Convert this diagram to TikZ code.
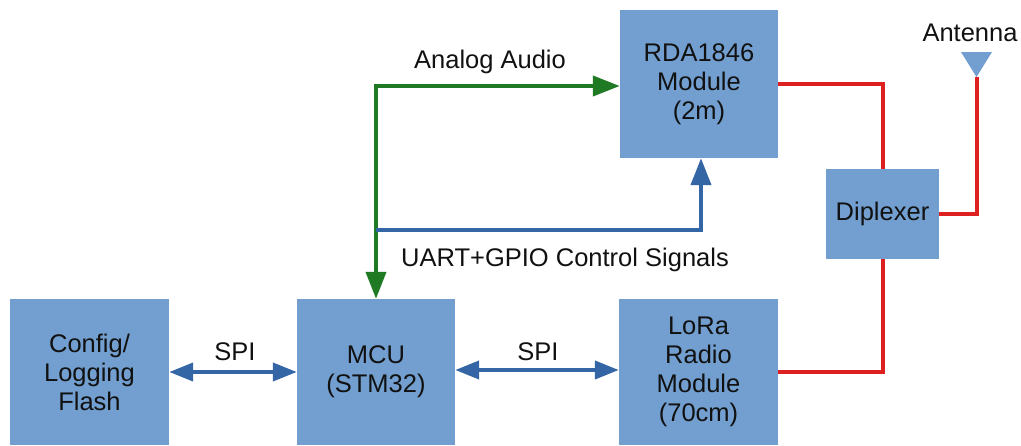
\documentclass[tikz,border=0pt]{standalone}
\usepackage{fontspec}
\setmainfont{Liberation Sans}
\usetikzlibrary{arrows.meta}
\definecolor{boxblue}{HTML}{729FCF}
\definecolor{lineblue}{HTML}{3465A4}
\definecolor{linegreen}{HTML}{1F7A23}
\definecolor{linered}{HTML}{DD2020}
\definecolor{txt}{HTML}{111111}
\begin{document}
\begin{tikzpicture}[x=1pt,y=-1pt,
  block/.style={fill=boxblue,draw=none,inner sep=0pt,align=center,text=txt,
    font=\fontsize{25.5}{29}\selectfont},
  lbl/.style={inner sep=0pt,text=txt,font=\fontsize{25.5}{29}\selectfont},
  wire/.style={line width=4pt},
  tip/.style={-{Triangle[length=27pt,width=20pt]}},
  tips/.style={{Triangle[length=24pt,width=18pt]}-{Triangle[length=24pt,width=18pt]}}
]
\useasboundingbox (0,0) rectangle (1021,445);
% blocks
\node[block,minimum width=159pt,minimum height=146pt] (flash) at (89.5,372) {Config/\\Logging\\Flash};
\node[block,minimum width=158pt,minimum height=146pt] (mcu) at (376,372) {MCU\\(STM32)};
\node[block,minimum width=159pt,minimum height=146pt] (lora) at (698.5,372) {LoRa\\Radio\\Module\\(70cm)};
\node[block,minimum width=158pt,minimum height=148pt] (rda) at (699,84) {RDA1846\\Module\\(2m)};
\node[block,minimum width=113pt,minimum height=90pt] (dip) at (882.5,214) {Diplexer};
% antenna
\coordinate (ant) at (976.5,77);
\fill[boxblue] (961,52) -- (992,52) -- (ant) -- cycle;
\node[lbl] (antl) at (970,33) {Antenna};
% labels
\node[lbl] (aa) at (490,62) {Analog Audio};
\node[lbl] (uart) at (565,260) {UART+GPIO Control Signals};
\node[lbl] (spi1) at (235,352) {SPI};
\node[lbl] (spi2) at (538,352) {SPI};
% red RF lines
\draw[wire,linered] (rda.east) -| (dip.north);
\draw[wire,linered] (lora.east) -| (dip.south);
\draw[wire,linered] (dip.east) -| (ant);
% green analog audio
\coordinate (g) at (376,86);
\draw[wire,linegreen,tip] (g) -- (g -| rda.west);
\draw[wire,linegreen,tip] ([yshift=2pt]g) -- (g |- mcu.north);
% blue control
\coordinate (b) at (376,230);
\draw[wire,lineblue,tip] (b) -| ([xshift=2pt]rda.south);
% SPI
\draw[wire,lineblue,tips] (flash.east) -- (mcu.west);
\draw[wire,lineblue,tips] ([yshift=2pt]mcu.east) -- ([yshift=2pt]lora.west);
\end{tikzpicture}
\end{document}
